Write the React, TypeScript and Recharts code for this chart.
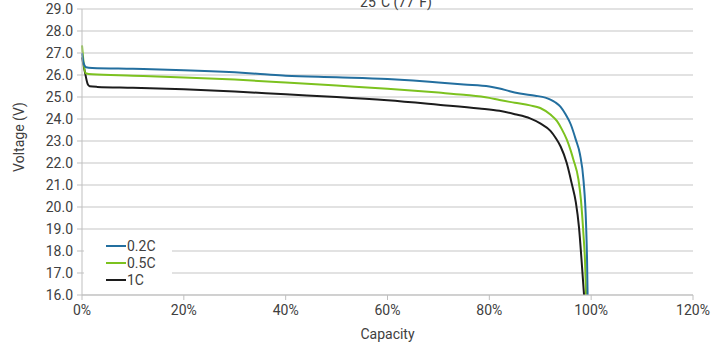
import { LineChart, Line, XAxis, YAxis, CartesianGrid } from "recharts"

const xTicks = [0, 20, 40, 60, 80, 100, 120]
const yTicks = [16, 17, 18, 19, 20, 21, 22, 23, 24, 25, 26, 27, 28, 29]

// [capacity %, voltage V]
const rate02 = [
  [0, 27.0], [0.3, 26.55], [0.8, 26.35], [2, 26.32], [10, 26.28], [20, 26.22], [30, 26.12],
  [35, 26.05], [40, 25.97], [50, 25.9], [60, 25.82], [65, 25.75], [70, 25.66], [75, 25.57],
  [80, 25.48], [82, 25.39], [84, 25.26], [86, 25.16], [89, 25.06], [91, 24.97], [92, 24.88],
  [93, 24.75], [94, 24.55], [95, 24.2], [96, 23.75], [97, 23.05], [97.8, 22.4], [98.5, 21.2],
  [99, 19.2], [99.2, 17.5], [99.3, 16.0],
]
const rate05 = [
  [0, 27.35], [0.3, 26.6], [0.7, 26.08], [2, 26.03], [10, 25.97], [20, 25.89], [30, 25.79],
  [40, 25.66], [50, 25.52], [60, 25.38], [70, 25.2], [75, 25.1], [80, 24.96], [82, 24.86],
  [85, 24.74], [88, 24.62], [90, 24.5], [92, 24.2], [93.3, 23.9], [94.2, 23.55], [95.2, 23.07],
  [96, 22.55], [96.5, 22.16], [97.5, 21.25], [98, 20.3], [98.5, 18.7], [98.8, 17.5], [99, 16.0],
]
const rate1 = [
  [0, 26.8], [0.6, 26.1], [1.1, 25.6], [1.5, 25.49], [3, 25.46], [10, 25.42], [20, 25.35],
  [30, 25.25], [40, 25.12], [50, 25.0], [60, 24.85], [70, 24.65], [78, 24.48], [82, 24.37],
  [85, 24.22], [88, 24.03], [90, 23.8], [92, 23.46], [93, 23.15], [94, 22.75], [95.2, 22.0],
  [96.2, 21.05], [97, 20.2], [97.6, 19.1], [98.2, 17.3], [98.6, 16.0],
]

const series = [
  { name: "0.2C", color: "#236f9f", points: rate02 },
  { name: "0.5C", color: "#7cc21f", points: rate05 },
  { name: "1C", color: "#1c1c1c", points: rate1 },
]

const font = "Roboto, 'Noto Sans', sans-serif"
const textColor = "#404040"

export default function App() {
  return (
    <div style={{ position: "absolute", left: 0, top: 0, width: 725, height: 347, background: "#fff", overflow: "hidden" }}>
      <LineChart width={725} height={347} margin={{ top: 9, right: 32, bottom: 0, left: 0 }}>
        <CartesianGrid vertical={false} stroke="#d9d9d9" strokeWidth={1.5} />
        <XAxis
          type="number"
          dataKey="x"
          domain={[0, 120]}
          ticks={xTicks}
          interval={0}
          tickFormatter={(v) => `${v}%`}
          height={52}
          tickSize={5}
          tickMargin={5}
          stroke="#bfbfbf"
          tick={{ fill: textColor, fontSize: 14, fontFamily: font }}
          label={{ value: "Capacity", position: "insideBottom", offset: 8, style: { fill: textColor, fontSize: 14, fontFamily: font } }}
        />
        <YAxis
          type="number"
          dataKey="v"
          domain={[16, 29]}
          ticks={yTicks}
          interval={0}
          tickFormatter={(v) => v.toFixed(1)}
          width={82}
          tickSize={5}
          tickMargin={4}
          stroke="#bfbfbf"
          tick={{ fill: textColor, fontSize: 14, fontFamily: font }}
        />
        {[...series].reverse().map((s) => (
          <Line
            key={s.name}
            name={s.name}
            data={s.points.map(([x, v]) => ({ x, v }))}
            dataKey="v"
            type="monotone"
            stroke={s.color}
            strokeWidth={2}
            dot={false}
            isAnimationActive={false}
          />
        ))}
      </LineChart>
      <div
        style={{
          position: "absolute",
          left: -21,
          top: 129,
          width: 80,
          height: 16,
          lineHeight: "16px",
          textAlign: "center",
          transform: "rotate(-90deg)",
          fontFamily: font,
          fontSize: 14,
          color: textColor,
        }}
      >
        Voltage (V)
      </div>
      <div
        style={{
          position: "absolute",
          top: -5,
          left: 296,
          width: 200,
          textAlign: "center",
          fontFamily: font,
          fontSize: 14,
          lineHeight: "14px",
          color: textColor,
        }}
      >
        25°C (77°F)
      </div>
      <div
        style={{
          position: "absolute",
          left: 84,
          top: 237,
          width: 88,
          height: 53,
          background: "#fff",
          fontFamily: font,
          fontSize: 14,
          color: textColor,
        }}
      >
        {series.map((s) => (
          <div key={s.name} style={{ display: "flex", alignItems: "center", height: 17 }}>
            <span style={{ display: "inline-block", width: 20, height: 2, background: s.color, marginLeft: 22, marginRight: 1 }} />
            <span>{s.name}</span>
          </div>
        ))}
      </div>
    </div>
  )
}
